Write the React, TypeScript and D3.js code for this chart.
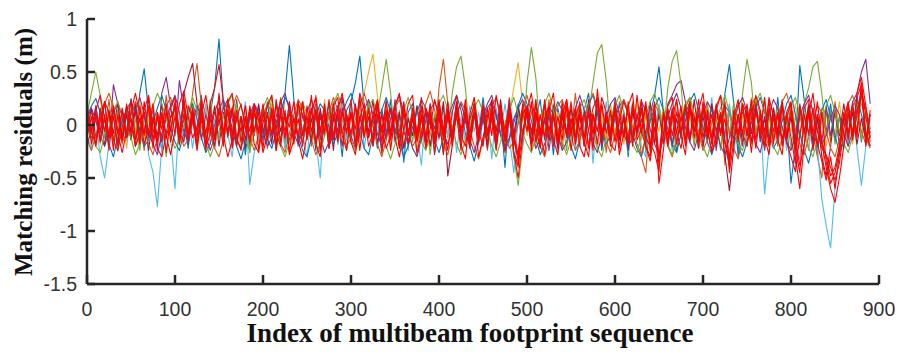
import React from "react";
import * as d3 from "d3";

// Residuals in centimetres, sampled every 5 footprints (index 0..890)
const STEP = 5;
const blueCm = [5,-12,18,-8,22,-15,10,-20,14,-6,25,-10,30,53,12,-18,8,-25,15,-5,20,-14,6,-22,18,-9,28,-16,10,35,81,20,-12,15,-20,8,-28,12,-6,18,-15,22,-10,5,-18,30,75,25,-20,10,-8,16,-24,12,-5,20,-14,8,-30,14,22,40,65,18,-10,6,-22,15,-8,24,-16,10,-35,12,20,-12,6,-18,14,-4,18,-26,10,-8,22,-14,5,-20,12,-10,26,-6,14,-22,8,-40,15,-12,20,-8,12,-18,6,24,-14,10,-28,16,-5,20,-12,8,-20,14,30,-10,18,-24,6,-14,20,-8,12,-30,16,-6,24,-16,10,28,55,12,-18,8,-26,14,-10,20,-6,16,-22,10,-14,18,-8,30,57,20,-30,12,-16,22,-8,14,-24,10,-12,26,-18,6,-55,-20,56,24,-10,16,-28,12,-6,20,-14,8,-22,18,-10,26,-16,12,-8];
const blue2Cm = [8,18,25,12,-5,-18,-30,-12,4,15,22,10,-6,-20,-14,2,16,28,14,-3,-16,-24,-8,10,20,6,-12,-26,-18,0,14,24,12,-4,-20,-32,-16,6,18,10,-2,-14,-22,-6,12,26,18,4,-10,-24,-30,-12,8,20,14,-2,-18,-8,10,22,30,16,-6,-22,-28,-10,6,14,26,12,-4,-16,-30,-20,-2,12,24,16,0,-14,-26,-12,6,18,28,14,-8,-20,-34,-16,4,16,22,8,-10,-24,-14,2,18,30,20,4,-12,-28,-18,-4,10,22,14,-6,-20,-32,-14,8,20,28,12,-6,-18,-10,6,18,24,10,-8,-22,-30,-12,4,16,26,14,-4,-18,-26,-8,10,22,30,14,-2,-16,-28,-14,6,18,12,-4,-20,-30,-16,2,16,26,12,-6,-22,-14,4,20,28,10,-8,-24,-36,-18,2,14,24,8,-10,-26,-16,6,18,26,10,-8,-20];
const lightBlueCm = [-10,-22,8,-30,-50,-18,12,-25,6,-15,14,-20,-8,10,-28,-45,-77,-20,18,-12,-60,10,-15,8,-22,14,-10,20,-18,6,-12,24,-8,-30,10,-16,22,-56,-26,-14,12,-20,8,-10,18,-24,6,-14,20,-8,-30,10,-14,-50,16,-6,22,-18,8,-14,18,-10,28,-22,6,-16,12,-28,14,-4,20,-12,8,-24,16,-8,-38,12,-20,6,-14,22,-10,14,-26,8,-16,18,-6,12,-20,10,-32,16,-8,20,-12,-45,6,-18,14,-10,24,-20,8,-14,18,-28,10,-6,16,-22,12,-8,20,-36,10,-14,22,-10,8,-18,14,-26,6,12,-20,-30,16,-8,20,-12,10,-24,14,-6,18,-16,8,-22,12,-10,26,-18,6,-14,20,-28,10,-16,-20,8,-14,10,-65,-22,14,-10,18,-24,16,-40,-30,10,-24,12,-20,-70,-95,-116,-60,-20,8,-18,14,-22,-57,-20,6];
const greenCm = [10,30,50,28,-12,8,-20,14,-6,18,-14,6,-24,12,-8,20,-16,10,-30,8,16,-10,22,-6,12,-20,8,-14,24,-8,10,-18,14,-4,20,-12,6,-26,12,-10,18,-6,28,-14,8,-20,14,-8,22,-16,6,-12,18,-24,10,-6,16,-18,8,-10,20,-14,12,-8,24,-20,10,35,62,30,-10,14,-22,8,-16,18,-6,12,-28,10,-8,16,-12,30,55,65,35,-10,14,-18,8,-12,20,-6,14,-22,10,-30,-57,-20,40,73,45,-8,12,-16,20,-10,6,-24,14,-8,18,-12,10,40,68,76,42,-6,12,-20,8,-14,22,-10,16,-26,6,-12,18,-8,35,60,70,38,-14,10,-20,14,-6,20,-12,8,-24,16,-10,22,-16,30,62,40,-8,14,-20,10,-14,18,-6,12,-22,8,-12,20,35,55,60,30,-10,14,-18,8,-12,16,-6,22,-14,10,-8];
const green2Cm = [4,-8,-20,-26,-10,8,14,22,10,-4,-12,-28,-18,-4,10,18,30,20,6,-10,-22,-14,0,12,26,14,-2,-16,-30,-18,-6,8,20,28,12,-4,-14,-24,-8,6,16,26,14,-2,-20,-30,-16,0,12,22,10,-6,-18,-26,-10,8,20,30,16,0,-14,-24,-12,4,18,24,10,-8,-20,-32,-18,-2,14,26,12,-4,-16,-24,-10,8,20,28,14,-2,-18,-28,-14,4,16,24,12,-6,-20,-30,-16,2,14,26,10,-8,-18,-26,-12,6,20,30,14,-4,-16,-28,-14,2,16,24,10,-8,-22,-30,-12,6,18,28,12,-6,-18,-26,-10,8,22,30,14,-4,-18,-28,-12,6,20,26,10,-8,-20,-30,-14,4,16,28,12,-6,-18,-24,-8,10,22,30,14,-4,-20,-28,-12,6,18,26,10,-8,-22,-30,-14,4,18,28,12,-6,-18,-26,-10,8,20,14,-4];
const orangeCm = [-8,14,-20,10,-6,24,-14,8,-18,12,20,-10,6,-24,16,-8,12,-16,28,-6,10,-14,22,-8,30,58,18,-20,10,-12,16,-6,24,-18,8,-12,20,-26,12,-4,14,-22,8,-10,26,-16,6,-14,18,-8,12,-20,28,-6,10,-16,22,-12,8,-24,16,-10,20,-8,14,-18,6,-12,24,-14,10,-22,16,-6,12,-28,8,-10,20,-16,35,62,20,-12,8,-18,14,-6,22,-10,16,-24,10,-14,18,-8,26,-30,-40,12,-6,20,-16,8,-10,24,-14,12,-22,16,-8,30,-12,14,-20,8,-6,18,-26,10,-14,22,-10,16,-8,12,-30,-45,14,-6,18,-12,10,-20,24,-8,16,-14,8,-22,12,-6,20,-16,10,-38,14,-8,22,-12,6,-18,16,-10,24,-14,8,-20,12,-6,18,-26,10,-12,20,-8,-30,-50,14,-16,22,-10,8,-20,14,-6,30,-12,-22];
const orange2Cm = [-14,-24,-10,6,20,30,16,-4,-16,-8,10,22,14,-2,-18,-28,-12,4,18,26,12,-6,-20,-14,2,14,24,10,-8,-22,-30,-14,4,16,28,18,2,-12,-24,-10,8,20,12,-4,-18,-26,-8,10,24,16,0,-14,-28,-18,-2,12,26,14,-4,-20,-12,6,18,30,16,-2,-18,-30,-14,4,16,24,10,-6,-20,-12,6,20,32,14,-4,-18,-28,-10,8,22,14,-4,-20,-32,-14,4,18,26,10,-8,-22,-16,2,16,28,12,-6,-20,-30,-12,6,18,24,8,-10,-24,-14,4,18,30,16,-2,-16,-26,-8,10,24,14,-2,-18,-28,-10,8,20,12,-4,-20,-30,-14,4,16,26,10,-8,-24,-14,2,18,28,12,-6,-22,-32,-12,6,20,26,10,-8,-20,-10,8,22,30,14,-4,-18,-28,-12,6,18,12,-6,-22,-30,-14,4,20,28,12,-6,-18,-10];
const yellowCm = [6,-10,16,-18,8,-6,20,-12,10,-22,14,-8,24,-14,6,-16,12,-4,18,-10,8,-20,14,-6,22,-12,10,-18,6,-8,16,-14,26,-10,8,-22,12,-6,18,-16,10,-8,20,-24,14,-12,6,-18,22,-6,12,-16,8,-10,24,-20,14,-8,10,-14,18,-6,12,30,50,67,28,-12,16,-20,8,-14,20,-10,12,-26,6,-8,16,-12,22,-16,10,-6,14,-20,8,-12,26,-10,12,-18,6,-8,20,-14,10,35,59,20,-10,14,-22,8,-6,18,-16,12,-8,24,-12,10,-20,16,-6,12,-24,8,-14,20,-8,14,-18,6,-10,22,-14,12,-26,8,-6,18,-12,10,-20,14,-8,24,-16,6,-12,20,-10,8,-22,16,-6,12,-18,10,-14,26,-8,12,-20,6,-10,18,-16,8,-6,20,-12,14,-24,10,-8,16,-20,12,-10,22,-14,6,-18,12,-8,16,-12];
const purpleCm = [12,-8,18,-14,6,-20,38,20,-10,14,-6,22,-16,8,-12,16,-24,30,45,18,-10,42,14,-18,8,-6,20,-14,10,-22,16,-8,12,-16,24,-10,6,-20,14,-6,18,-12,8,-24,10,-14,22,-8,16,-18,6,-10,20,-14,12,-22,8,-6,26,-12,14,-18,10,-8,20,-16,6,-24,12,-10,24,-6,16,-20,8,-12,18,-14,10,-28,16,-8,12,-18,22,-10,6,-14,20,-6,10,-22,14,-12,8,-16,24,-8,12,-20,18,-6,10,-14,20,-24,8,-10,16,-12,6,-18,22,-8,14,-16,10,-20,12,-6,24,-14,8,-12,18,-10,6,-22,16,-8,12,-18,20,28,38,42,22,-12,8,-16,14,-6,20,-24,10,-10,18,-14,6,-20,12,-8,22,-16,8,-12,16,-6,24,-18,10,-14,20,-8,12,-22,6,-16,18,-10,14,-20,8,-12,22,30,50,62,20];
const purple2Cm = [6,16,4,-10,-20,-6,12,20,8,-12,-4,14,26,10,-8,-18,-28,-8,6,18,28,12,-6,-16,4,18,8,-10,-24,-12,2,16,24,6,-14,-22,-6,10,20,12,-6,-20,-12,8,22,30,14,-8,-18,-6,12,24,10,-10,-26,-16,4,18,26,8,-10,-22,-6,14,24,10,-8,-20,-10,6,18,28,12,-6,-22,-30,-12,4,14,22,10,-8,-18,-4,12,20,6,-14,-26,-10,8,20,28,10,-8,-20,-12,6,16,24,12,-6,-22,-14,4,18,10,-8,-24,-16,2,16,28,14,-6,-18,-26,-10,8,20,26,10,-8,-20,-12,6,22,14,-4,-18,-28,-10,8,20,30,16,-2,-16,-24,-8,10,22,14,-4,-20,-28,-12,6,18,26,12,-6,-18,-26,-8,10,24,16,-2,-16,-24,-10,8,20,28,12,-4,-18,-10,6,18,10,-8,-20,-6,14,28,16,-4];
const darkRedCm = [-6,16,-12,8,-20,14,-8,22,-16,10,-14,18,-6,12,-24,8,-10,20,-12,6,16,-18,30,45,58,20,-14,10,-8,18,-20,12,-6,16,-14,8,-22,14,-10,20,-8,12,-18,24,-6,10,-16,8,-12,22,-14,6,-20,16,-10,12,-24,18,-8,10,-16,20,-12,8,-6,24,-18,10,-14,16,-8,12,-22,6,-10,18,-16,14,-20,8,-12,22,-48,-20,16,-6,10,-14,20,-10,8,-18,14,-6,24,-12,10,-20,16,-8,12,-16,20,-10,6,-14,18,-22,8,-6,16,-12,10,-20,24,-8,14,-16,6,-10,20,-14,8,-24,12,-6,16,-10,22,-18,10,-8,14,-20,6,-12,18,-16,24,-10,8,-14,20,-6,12,-30,-62,-20,10,-16,14,-8,22,-12,6,-18,16,-10,20,-14,8,-22,12,-6,18,-16,10,-30,-48,-20,14,-10,20,-8,12,-18,6,-14,10];
const redACm = [14,-18,10,-6,22,-12,8,-20,16,-10,24,-14,6,-8,18,-22,12,-4,20,-16,8,-12,26,-10,14,-18,6,-24,20,35,57,22,-10,16,-20,8,-14,18,-6,12,-22,10,-8,20,-16,14,-26,6,-12,22,-10,16,-18,8,-6,24,-14,12,-20,10,-8,18,-24,14,-12,6,22,-16,10,-6,20,-20,12,-10,16,-8,26,-14,8,-18,14,-6,22,-12,10,-24,18,-8,12,-16,20,-10,6,-22,16,-14,8,-26,-50,-12,18,-8,12,-20,24,-6,10,-16,14,-10,22,-18,8,-12,16,-24,34,-8,12,-14,20,-10,6,-18,14,-8,24,-20,-30,10,-55,-24,16,-10,12,-6,20,-14,8,-22,18,-12,10,-20,6,-16,-40,14,-8,20,-10,16,-22,12,-6,24,-18,10,-14,8,20,-30,-60,-18,14,-8,22,-16,-40,-60,-73,-50,-20,12,-10,30,45,18,-12];
const redBCm = [-12,8,-20,16,-6,12,-24,10,-14,20,-8,14,-18,22,-10,6,-16,12,-26,8,16,-6,20,-14,10,-22,14,-8,18,-12,6,-20,24,-10,14,-16,8,-6,20,-24,12,-8,16,-18,10,-12,22,-14,6,-20,18,-6,14,-24,10,-10,20,-16,12,-8,24,-18,8,-12,16,-20,10,-6,22,-14,12,-22,18,-8,10,-16,6,-12,20,-26,8,-10,16,-20,14,-6,24,-18,10,-12,18,-8,12,-24,20,-14,6,-10,-35,16,-6,22,-16,10,-12,18,-20,8,-14,24,-10,16,-6,12,-22,10,-18,20,-8,14,-16,6,-12,22,-20,10,-8,18,-24,14,-30,12,-10,16,-18,8,-14,22,-6,10,-20,14,-12,20,-8,6,-34,12,-16,18,-10,24,-14,8,-22,16,-6,12,-20,10,-12,-36,18,-8,14,-24,10,-16,-30,-48,-40,-20,12,-14,20,-8,36,-16,10];
const redCCm = [20,-6,12,-16,10,-24,16,-8,14,-12,6,-20,18,-10,26,-14,8,-16,12,-6,22,-18,10,-8,16,-12,24,-20,6,-14,30,-10,14,-22,8,-6,18,-16,12,-8,20,-14,10,-24,16,-6,12,-18,22,-10,8,-16,14,-8,20,-22,10,-12,16,-6,12,-20,26,-10,8,-16,18,-6,14,-24,10,-12,22,-18,6,-8,16,-20,12,-10,24,-14,8,-16,18,-6,12,-22,10,-8,14,-20,22,-12,6,-16,18,-8,-28,10,16,-24,12,-6,20,-14,8,-18,22,-10,6,-12,16,-20,10,-8,24,-16,12,-6,18,-22,10,-14,20,-8,14,-12,-20,22,-40,10,-16,12,-8,18,-20,14,-6,24,-12,8,-18,16,-10,22,-45,-14,10,-8,20,-16,12,-6,26,-20,8,-12,18,-10,14,-22,-45,10,-8,16,-20,12,-35,-55,-45,-24,10,-8,18,-12,40,-20,14];
const redDCm = [10,-6,-18,4,22,12,-14,-24,-2,16,6,-20,-8,14,28,-4,-16,10,-10,-28,-6,20,32,8,-12,-2,18,-22,-8,12,24,-10,-30,-14,6,20,-4,14,-18,-26,2,18,28,-8,-20,10,-2,22,-14,-32,-10,12,26,-6,16,-20,-8,14,30,4,-16,-28,6,20,-12,10,24,-4,-22,-10,18,30,-6,-18,8,-26,-8,16,4,-14,22,-2,-24,12,28,-10,-20,6,18,-30,-12,8,24,-16,10,-4,20,-26,-38,-8,14,30,-2,-22,6,18,-14,-28,10,24,-6,12,-20,-30,-4,16,26,-10,8,-18,-24,4,22,10,-14,28,-6,-20,-34,-2,-30,-10,18,26,-8,-22,4,20,-12,14,30,-4,-26,-10,12,-16,-36,8,24,-8,-20,6,28,14,-12,-28,10,-6,22,-16,-30,-44,-10,16,24,-8,-18,-34,-52,-30,-60,-28,6,22,-14,10,34,-6,-20];
const redECm = [-20,-4,14,28,6,-12,18,-8,-26,-6,12,30,10,-18,-4,20,-22,-30,-8,16,26,-6,-16,18,6,-24,10,28,-2,-20,14,-8,22,30,-12,-24,8,-16,20,4,-26,-10,14,-4,24,8,-28,-14,20,10,-8,28,-18,-30,6,-12,18,26,-10,-24,10,-4,30,14,-20,-8,22,-26,4,16,-12,-30,-6,20,28,-14,10,-22,-4,24,8,-28,14,-8,20,-18,-32,10,26,-6,-20,16,-10,28,4,-26,12,-14,-30,20,6,-18,24,-8,-28,14,30,-12,-4,18,-24,8,20,-16,-30,10,-6,26,12,-20,14,-28,-8,18,30,-14,-4,22,-18,-26,-44,12,-20,6,24,-10,-28,16,8,-14,22,-6,-24,14,28,-18,-30,4,-10,20,10,-26,16,-8,-20,26,8,-14,-28,12,22,-12,-38,-20,8,30,-6,-22,-28,-40,-52,-36,-4,18,-10,26,38,8,-16];

const seriesList = [
  { name: "blue", color: "#0072BD", data: blueCm },
  { name: "orange", color: "#D95319", data: orangeCm },
  { name: "yellow", color: "#EDB120", data: yellowCm },
  { name: "purple", color: "#7E2F8E", data: purpleCm },
  { name: "green", color: "#77AC30", data: greenCm },
  { name: "lightblue", color: "#4DBEEE", data: lightBlueCm },
  { name: "darkred", color: "#A2142F", data: darkRedCm },
  { name: "blue2", color: "#0072BD", data: blue2Cm },
  { name: "orange2", color: "#D95319", data: orange2Cm },
  { name: "purple2", color: "#7E2F8E", data: purple2Cm },
  { name: "green2", color: "#77AC30", data: green2Cm },
  { name: "redA", color: "#FF0000", data: redACm },
  { name: "redB", color: "#FF0000", data: redBCm },
  { name: "redC", color: "#FF0000", data: redCCm },
  { name: "redD", color: "#FF0000", data: redDCm },
  { name: "redE", color: "#FF0000", data: redECm },
];

const xTicks = [0, 100, 200, 300, 400, 500, 600, 700, 800, 900];
const yTicks = [-1.5, -1, -0.5, 0, 0.5, 1];
const xTitle = "Index of multibeam footprint sequence";
const yTitle = "Matching residuals (m)";

export default function App() {
  const W = 898, H = 354;
  const x = d3.scaleLinear().domain([0, 900]).range([87, 879]);
  const y = d3.scaleLinear().domain([-1.5, 1]).range([284, 19]);
  const line = d3
    .line<number>()
    .x((_, i) => x(i * STEP))
    .y((v) => y(v / 100));
  const axisColor = "#262626";
  const sans = "'Liberation Sans', Arial, sans-serif";
  const serif = "'Liberation Serif', 'Times New Roman', serif";
  return (
    <svg width={W} height={H} style={{ position: "absolute", left: 0, top: 0, background: "#fff" }}>
      <g>
        {seriesList.map((s) => (
          <path
            key={s.name}
            d={line(s.data) || ""}
            fill="none"
            stroke={s.color}
            strokeWidth={1.1}
            strokeLinejoin="round"
          />
        ))}
      </g>
      <line x1={x(0)} x2={x(0)} y1={y(1)} y2={y(-1.5)} stroke={axisColor} strokeWidth={2.5} />
      <line x1={x(0)} x2={x(900)} y1={y(-1.5)} y2={y(-1.5)} stroke={axisColor} strokeWidth={2.5} />
      {yTicks.map((t) => (
        <g key={"y" + t}>
          <line x1={x(0)} x2={x(0) + 8} y1={y(t)} y2={y(t)} stroke={axisColor} strokeWidth={2.5} />
          <text x={77} y={y(t)} dy="0.35em" textAnchor="end" fontFamily={sans} fontSize={19.5} fill="#333">
            {t}
          </text>
        </g>
      ))}
      {xTicks.map((t) => (
        <g key={"x" + t}>
          <line x1={x(t)} x2={x(t)} y1={y(-1.5)} y2={y(-1.5) - 9} stroke={axisColor} strokeWidth={2.5} />
          <text x={x(t)} y={316} textAnchor="middle" fontFamily={sans} fontSize={19.5} fill="#333">
            {t}
          </text>
        </g>
      ))}
      <text x={470} y={342} textAnchor="middle" fontFamily={serif} fontWeight="bold" fontSize={27} fill="#111">
        {xTitle}
      </text>
      <text
        transform={`translate(32,152) rotate(-90)`}
        textAnchor="middle"
        fontFamily={serif}
        fontWeight="bold"
        fontSize={25}
        fill="#111"
      >
        {yTitle}
      </text>
    </svg>
  );
}
